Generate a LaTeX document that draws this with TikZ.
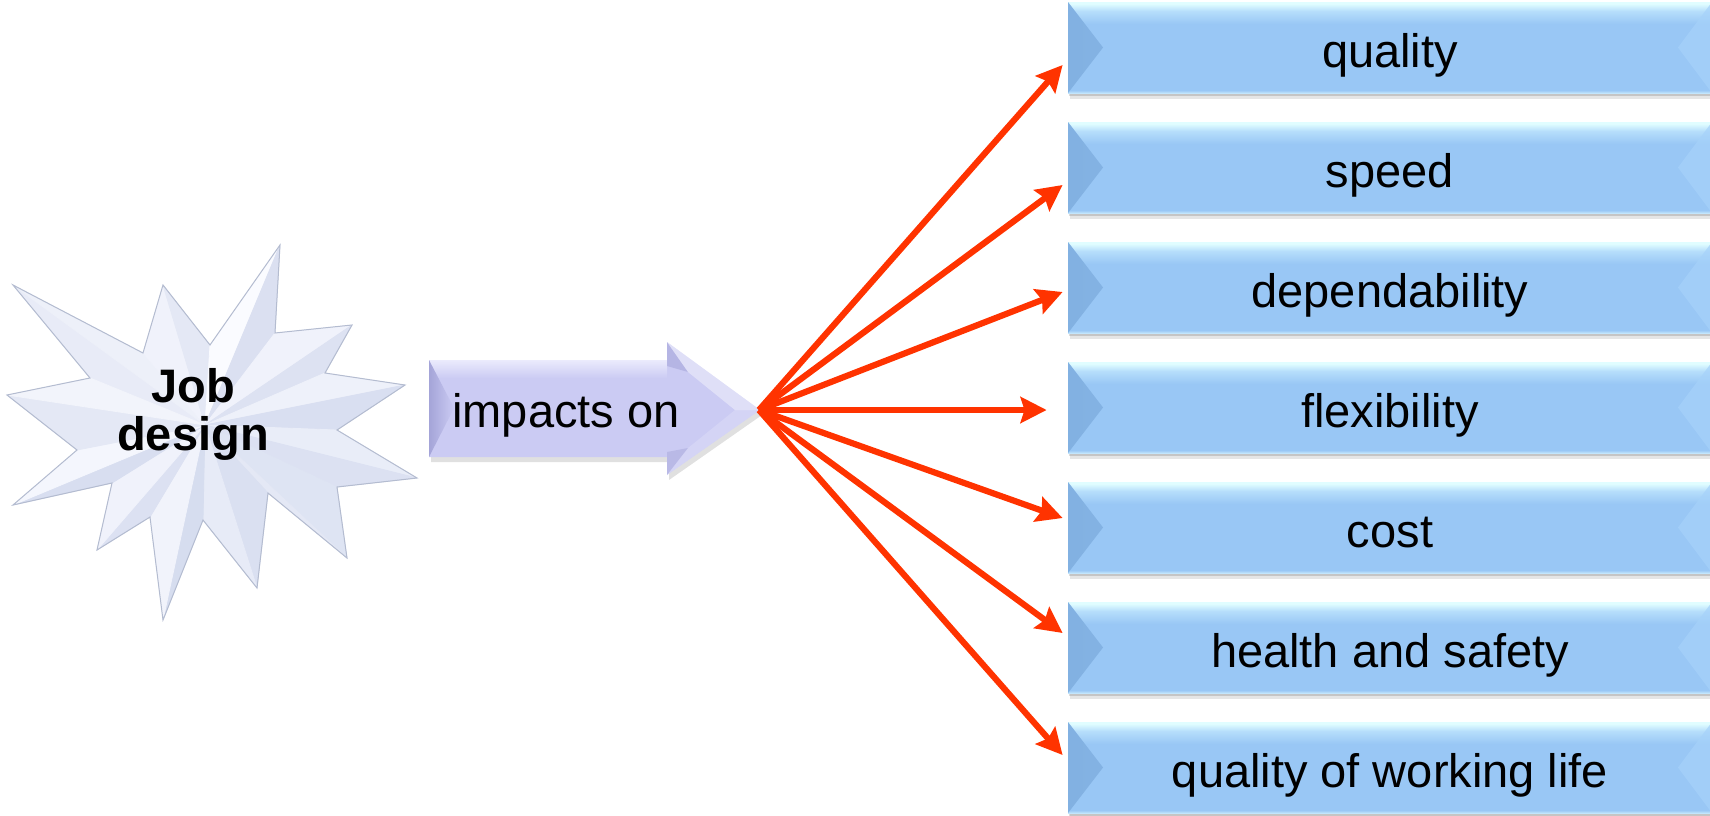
\documentclass[tikz,border=0pt]{standalone}
\usepackage{fontspec}
\setmainfont{Liberation Sans}
\usetikzlibrary{arrows.meta}

% palette
\definecolor{tileMain}{HTML}{99C7F5}
\definecolor{tileGlow}{HTML}{B6DEFB}
\definecolor{tileTop}{HTML}{E0FDFF}
\definecolor{tileRim}{HTML}{C2E5FC}
\definecolor{tileEdge}{HTML}{82B1E2}
\definecolor{tileRight}{HTML}{A6D2FA}
\definecolor{fanRed}{HTML}{FF3300}
\definecolor{arwMain}{HTML}{CBCBF3}
\definecolor{arwTop}{HTML}{EBEBFC}
\definecolor{arwEdge}{HTML}{A4A4D8}
\definecolor{starLight}{HTML}{FAFBFF}
\definecolor{starDark}{HTML}{CCD4EB}
\definecolor{starLine}{HTML}{B4BCD0}

\pgfdeclareverticalshading{tileshade}{100bp}{%
  color(0bp)=(tileRim); color(25bp)=(tileRim); color(26.5bp)=(tileMain);
  color(63bp)=(tileMain); color(70bp)=(tileGlow); color(74bp)=(tileTop);
  color(75bp)=(tileTop); color(100bp)=(tileTop)}

\begin{document}
\begin{tikzpicture}[x=0.5pt, y=-0.5pt,
  tile/.style={shade, shading=tileshade,
    minimum width=322pt, minimum height=45.5pt, inner sep=0pt,
    text height=20pt, text depth=0pt,
    font=\fontsize{23.5pt}{28pt}\selectfont,
    preaction={fill=black, opacity=0.10, transform canvas={xshift=0.8pt, yshift=-3pt}},
    preaction={fill=black, opacity=0.14, transform canvas={xshift=0.4pt, yshift=-1.6pt}},
    path picture={
      \shade[left color=tileEdge, right color=tileMain]
        (path picture bounding box.north west)
        -- ([xshift=17.5pt]path picture bounding box.west)
        -- (path picture bounding box.south west) -- cycle;
      \fill[tileRight, opacity=0.7]
        (path picture bounding box.north east)
        -- ([xshift=-17pt]path picture bounding box.east)
        -- (path picture bounding box.south east) -- cycle;
    }},
  fanline/.style={draw=fanRed, line width=3.1pt,
    -{Stealth[length=13pt, width=13pt, inset=2pt]}},
  bigtext/.style={font=\fontsize{23.5pt}{24pt}\selectfont}
]
\useasboundingbox (0,0) rectangle (1710,815);

% ---- twelve-point star ----
\path (13,285) coordinate (p1)  (143,353) coordinate (p2)
      (163,285) coordinate (p3) (210,345) coordinate (p4)
      (280,245) coordinate (p5) (275,333) coordinate (p6)
      (352,325) coordinate (p7) (325,373) coordinate (p8)
      (405,385) coordinate (p9) (337,430) coordinate (p10)
      (417,478) coordinate (p11) (337,487) coordinate (p12)
      (347,558) coordinate (p13) (268,493) coordinate (p14)
      (257,588) coordinate (p15) (203,520) coordinate (p16)
      (163,620) coordinate (p17) (150,517) coordinate (p18)
      (97,550) coordinate (p19) (112,483) coordinate (p20)
      (13,505) coordinate (p21) (77,450) coordinate (p22)
      (7,395) coordinate (p23) (90,378) coordinate (p24)
      (205,425) coordinate (sc);

% soft shadow of the star
\fill[black, opacity=0.08, shift={(3,5)}]
  (p1) \foreach \q in {2,...,24}{ -- (p\q)} -- cycle;

% facets, lit from the upper left
\foreach \a/\b/\pc in {24/1/60, 1/2/72, 2/3/78, 3/4/52, 4/5/100, 5/6/32,
    6/7/78, 7/8/36, 8/9/74, 9/10/28, 10/11/64, 11/12/34, 12/13/40,
    13/14/52, 14/15/30, 15/16/58, 16/17/22, 17/18/80, 18/19/34,
    19/20/78, 20/21/26, 21/22/88, 22/23/52, 23/24/82}
  \filldraw[fill=starLight!\pc!starDark, draw=starLight!\pc!starDark,
            line width=0.4pt, line join=round]
    (sc) -- (p\a) -- (p\b) -- cycle;

\draw[starLine, line width=0.5pt, line join=miter]
  (p1) \foreach \q in {2,...,24}{ -- (p\q)} -- cycle;

\node[font=\bfseries\fontsize{23.5pt}{24pt}\selectfont, align=center]
  (job) at (193,414) {Job\\design};

% ---- block arrow ----
\fill[black, opacity=0.12, shift={(2,5)}]
  (429,360) -- (667,360) -- (667,342) -- (760,410) -- (667,475)
  -- (667,457) -- (429,457) -- cycle;
\fill[arwMain]
  (429,360) -- (667,360) -- (667,342) -- (760,410) -- (667,475)
  -- (667,457) -- (429,457) -- cycle;
% body highlight along the top edge
\shade[top color=arwTop, bottom color=arwMain] (429,360) rectangle (667,378);
% left bevel of the body
\shade[left color=arwEdge, right color=arwMain]
  (429,360) -- (454,408) -- (429,457) -- cycle;
% head bevels
\fill[arwEdge, opacity=0.55] (667,342) -- (688,372) -- (667,366) -- cycle;
\fill[arwEdge, opacity=0.45] (667,475) -- (688,448) -- (667,452) -- cycle;
\fill[white, opacity=0.40] (667,342) -- (760,410) -- (735,410) -- (688,372) -- cycle;
\fill[white, opacity=0.18] (760,410) -- (667,475) -- (688,448) -- (735,410) -- cycle;
\node[bigtext, anchor=base] (impacts) at (566,427) {impacts on};
\coordinate (fan) at (759,410);

% ---- outcome tiles ----
\foreach \nm/\txt [count=\k from 0] in {quality/quality, speed/speed,
    dep/dependability, flex/flexibility, cost/cost,
    hs/health and safety, qwl/quality of working life}
  \node[tile] (\nm) at (1390, 47.5+120*\k) {\txt};

% ---- connectors ----
\foreach \nm/\dx/\dy in {quality/-5/17.5, speed/-5/17.5, dep/-5/4.5,
    flex/-21/2.5, cost/-5/-9.5, hs/-5/-14.5, qwl/-5/-12.5}
  \draw[fanline] (fan) -- ([shift={(\dx,\dy)}]\nm.west);
\end{tikzpicture}
\end{document}
